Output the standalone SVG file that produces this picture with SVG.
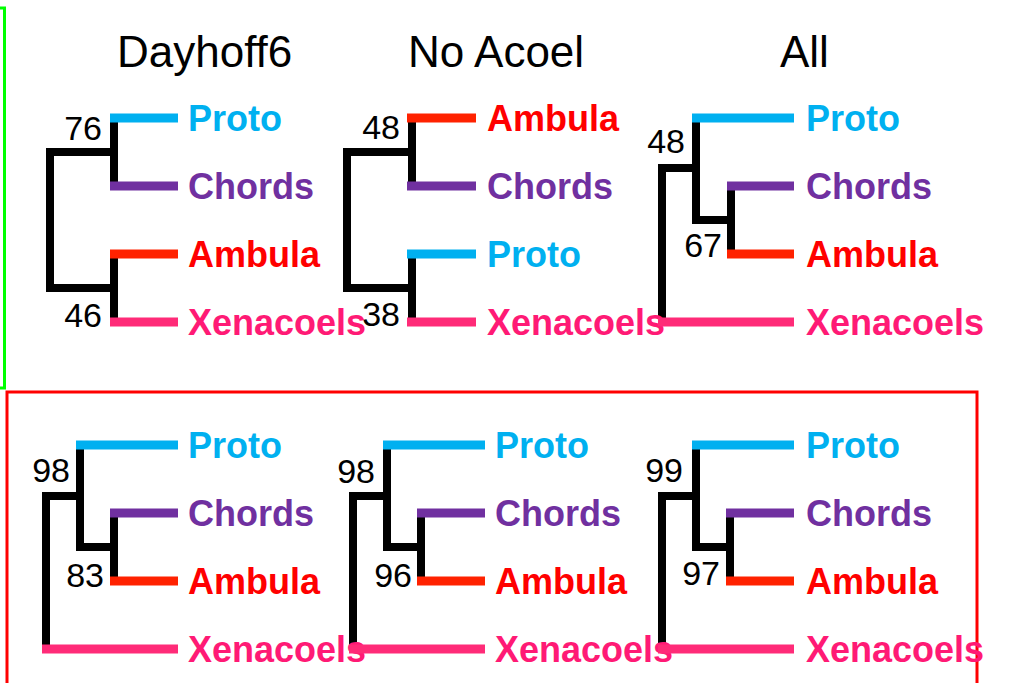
<svg xmlns="http://www.w3.org/2000/svg" width="1009" height="683" viewBox="0 0 1009 683">
<style>
  .title { font-family: "Liberation Sans", Arial, sans-serif; font-size: 44px; fill: #000; }
  .num { font-family: "Liberation Sans", Arial, sans-serif; font-size: 34px; fill: #000; text-anchor: end; }
  .leaf { font-family: "Liberation Sans", Arial, sans-serif; font-size: 36px; font-weight: bold; }
  .conn { fill: none; stroke: #000; stroke-width: 8; stroke-linejoin: miter; stroke-linecap: butt; }
  .br { stroke-width: 9; stroke-linecap: butt; }
  .proto { stroke: #00B0F0; } .protoT { fill: #00B0F0; }
  .chords { stroke: #7030A0; } .chordsT { fill: #7030A0; }
  .ambula { stroke: #FF2200; } .ambulaT { fill: #FF0000; }
  .xena { stroke: #FF2B78; } .xenaT { fill: #FF1A75; }
  .frame { fill: none; }
</style>
<rect width="1009" height="683" fill="#fff"/>
<rect class="frame" x="-50" y="8" width="54.5" height="380" stroke="#00FF00" stroke-width="3"/>
<rect class="frame" x="7" y="392" width="970" height="400" stroke="#FF0000" stroke-width="3"/>

<g id="titles">
  <text class="title" x="117" y="67">Dayhoff6</text>
  <text class="title" x="408" y="67">No Acoel</text>
  <text class="title" x="780" y="67">All</text>
</g>

<g id="connectors">
  <path class="conn" d="M114,118 V186 M114,254 V322 M114,152 H50 V288 H114"/>
  <path class="conn" d="M412,118 V186 M412,254 V322 M412,152 H347 V288 H412"/>
  <path class="conn" d="M696,118 V220 H731 M731,186 V254 M696,168 H662 V322"/>
  <path class="conn" d="M80,445 V547 H114 M114,513 V581 M80,496 H46 V649"/>
  <path class="conn" d="M387,445 V547 H421 M421,513 V581 M387,496 H353 V649"/>
  <path class="conn" d="M696,445 V547 H730 M730,513 V581 M696,496 H662 V649"/>
</g>

<g id="tree-dayhoff6">
  <g id="t1-proto"><line class="br proto" x1="110" y1="118" x2="178" y2="118"/><text class="leaf protoT" x="188" y="131">Proto</text></g>
  <g id="t1-chords"><line class="br chords" x1="110" y1="186" x2="178" y2="186"/><text class="leaf chordsT" x="188" y="199">Chords</text></g>
  <g id="t1-ambula"><line class="br ambula" x1="110" y1="254" x2="178" y2="254"/><text class="leaf ambulaT" x="188" y="267">Ambula</text></g>
  <g id="t1-xena"><line class="br xena" x1="110" y1="322" x2="178" y2="322"/><text class="leaf xenaT" x="188" y="335">Xenacoels</text></g>
  <text class="num" x="102" y="140">76</text>
  <text class="num" x="102" y="327">46</text>
</g>

<g id="tree-noacoel">
  <g id="t2-ambula"><line class="br ambula" x1="407" y1="118" x2="476" y2="118"/><text class="leaf ambulaT" x="487" y="131">Ambula</text></g>
  <g id="t2-chords"><line class="br chords" x1="407" y1="186" x2="476" y2="186"/><text class="leaf chordsT" x="487" y="199">Chords</text></g>
  <g id="t2-proto"><line class="br proto" x1="407" y1="254" x2="476" y2="254"/><text class="leaf protoT" x="487" y="267">Proto</text></g>
  <g id="t2-xena"><line class="br xena" x1="407" y1="322" x2="476" y2="322"/><text class="leaf xenaT" x="487" y="335">Xenacoels</text></g>
  <text class="num" x="400" y="139">48</text>
  <text class="num" x="400" y="326">38</text>
</g>

<g id="tree-all">
  <g id="t3-proto"><line class="br proto" x1="692" y1="118" x2="794" y2="118"/><text class="leaf protoT" x="806" y="131">Proto</text></g>
  <g id="t3-chords"><line class="br chords" x1="727" y1="186" x2="794" y2="186"/><text class="leaf chordsT" x="806" y="199">Chords</text></g>
  <g id="t3-ambula"><line class="br ambula" x1="727" y1="254" x2="794" y2="254"/><text class="leaf ambulaT" x="806" y="267">Ambula</text></g>
  <g id="t3-xena"><line class="br xena" x1="658" y1="322" x2="794" y2="322"/><text class="leaf xenaT" x="806" y="335">Xenacoels</text></g>
  <text class="num" x="685" y="153">48</text>
  <text class="num" x="722" y="257">67</text>
</g>

<g id="tree-b1">
  <g id="b1-proto"><line class="br proto" x1="76" y1="445" x2="178" y2="445"/><text class="leaf protoT" x="188" y="458">Proto</text></g>
  <g id="b1-chords"><line class="br chords" x1="110" y1="513" x2="178" y2="513"/><text class="leaf chordsT" x="188" y="526">Chords</text></g>
  <g id="b1-ambula"><line class="br ambula" x1="110" y1="581" x2="178" y2="581"/><text class="leaf ambulaT" x="188" y="594">Ambula</text></g>
  <g id="b1-xena"><line class="br xena" x1="42" y1="649" x2="178" y2="649"/><text class="leaf xenaT" x="188" y="662">Xenacoels</text></g>
  <text class="num" x="70" y="482">98</text>
  <text class="num" x="104" y="587">83</text>
</g>

<g id="tree-b2">
  <g id="b2-proto"><line class="br proto" x1="383" y1="445" x2="485" y2="445"/><text class="leaf protoT" x="495" y="458">Proto</text></g>
  <g id="b2-chords"><line class="br chords" x1="417" y1="513" x2="485" y2="513"/><text class="leaf chordsT" x="495" y="526">Chords</text></g>
  <g id="b2-ambula"><line class="br ambula" x1="417" y1="581" x2="485" y2="581"/><text class="leaf ambulaT" x="495" y="594">Ambula</text></g>
  <g id="b2-xena"><line class="br xena" x1="349" y1="649" x2="485" y2="649"/><text class="leaf xenaT" x="495" y="662">Xenacoels</text></g>
  <text class="num" x="375" y="483">98</text>
  <text class="num" x="412" y="587">96</text>
</g>

<g id="tree-b3">
  <g id="b3-proto"><line class="br proto" x1="692" y1="445" x2="794" y2="445"/><text class="leaf protoT" x="806" y="458">Proto</text></g>
  <g id="b3-chords"><line class="br chords" x1="726" y1="513" x2="794" y2="513"/><text class="leaf chordsT" x="806" y="526">Chords</text></g>
  <g id="b3-ambula"><line class="br ambula" x1="726" y1="581" x2="794" y2="581"/><text class="leaf ambulaT" x="806" y="594">Ambula</text></g>
  <g id="b3-xena"><line class="br xena" x1="658" y1="649" x2="794" y2="649"/><text class="leaf xenaT" x="806" y="662">Xenacoels</text></g>
  <text class="num" x="683" y="482">99</text>
  <text class="num" x="720" y="585">97</text>
</g>
</svg>
